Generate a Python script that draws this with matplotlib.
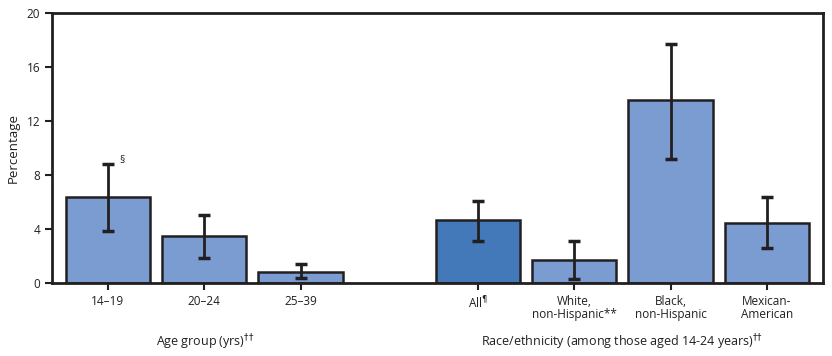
import matplotlib.pyplot as plt

plt.rcParams['font.family'] = ['Open Sans', 'DejaVu Sans']
plt.rcParams['mathtext.fontset'] = 'dejavusans'

# data
labels = ["14\u201319", "20\u201324", "25\u201339",
          "All$^{\u00b6}$", "White,\nnon-Hispanic**", "Black,\nnon-Hispanic", "Mexican-\nAmerican"]
pos = [0, 1, 2, 3.84, 4.84, 5.84, 6.84]
values = [6.4, 3.45, 0.82, 4.68, 1.73, 13.55, 4.47]
ci_low = [3.85, 1.83, 0.35, 3.13, 0.27, 9.16, 2.57]
ci_high = [8.8, 5.04, 1.38, 6.05, 3.13, 17.68, 6.35]
colors = ["#7b9cd1"] * 3 + ["#4379b9"] + ["#7b9cd1"] * 3

fig = plt.figure(figsize=(8.32, 3.56), dpi=100)
ax = fig.add_axes([0.0625, 0.205, 0.9265, 0.758])

yerr = [[v - l for v, l in zip(values, ci_low)], [h - v for v, h in zip(values, ci_high)]]
ax.bar(pos, values, width=0.875, color=colors, edgecolor="#231f20", linewidth=1.8, zorder=2)
ax.errorbar(pos, values, yerr=yerr, fmt="none", ecolor="#231f20", elinewidth=2,
            capsize=4, capthick=2.5, zorder=3)

ax.set_xlim(-0.58, 7.42)
ax.set_ylim(0, 20)
ax.set_yticks([0, 4, 8, 12, 16, 20])
ax.set_xticks(pos)
ax.set_xticklabels(labels, fontsize=8.5, color="#231f20", linespacing=1.05)
ax.tick_params(axis="y", labelsize=8.5, colors="#231f20", length=5, width=1.5)
ax.tick_params(axis="x", length=5, width=1.5, colors="#231f20")
for s in ax.spines.values():
    s.set_linewidth(2)
    s.set_color("#231f20")
ax.set_ylabel("Percentage", fontsize=9.5, color="#231f20", labelpad=5)

ax.text(0.12, 8.9, "\u00a7", fontsize=7.5, color="#231f20")

fig.text(205 / 832, 1 - 342 / 356, "Age group (yrs)$^{\u2020\u2020}$", ha="center", va="center",
         fontsize=9, color="#231f20")
fig.text(622 / 832, 1 - 342 / 356, "Race/ethnicity (among those aged 14-24 years)$^{\u2020\u2020}$",
         ha="center", va="center", fontsize=9, color="#231f20")

fig.savefig("out.png", dpi=100)
